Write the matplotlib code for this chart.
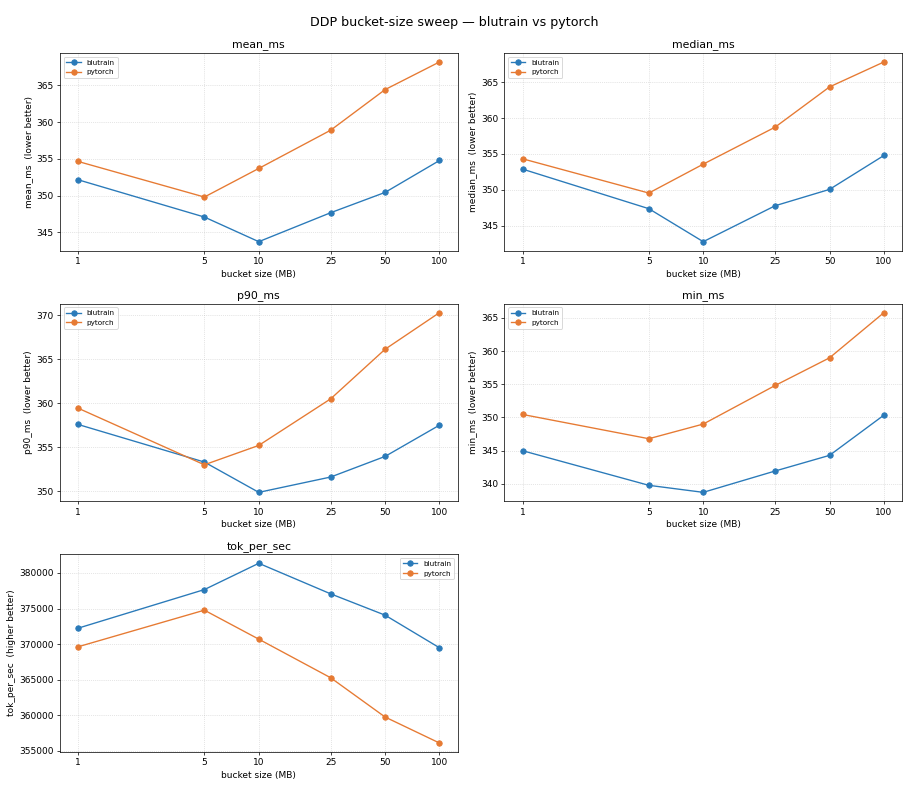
"""DDP bucket-size sweep: blutrain vs pytorch, one panel per metric."""

import matplotlib

matplotlib.use("Agg")
import matplotlib.pyplot as plt
from matplotlib.ticker import MultipleLocator, NullLocator


BUCKET_MB = [1, 5, 10, 25, 50, 100]

MEAN_MS_BLUTRAIN = [352.15, 347.08, 343.73, 347.67, 350.43, 354.77]
MEAN_MS_PYTORCH = [354.64, 349.80, 353.69, 358.89, 364.41, 368.17]

MEDIAN_MS_BLUTRAIN = [352.89, 347.37, 342.77, 347.78, 350.06, 354.79]
MEDIAN_MS_PYTORCH = [354.33, 349.55, 353.58, 358.74, 364.35, 367.83]

P90_MS_BLUTRAIN = [357.60, 353.33, 349.89, 351.63, 353.97, 357.52]
P90_MS_PYTORCH = [359.45, 353.02, 355.22, 360.51, 366.14, 370.30]

MIN_MS_BLUTRAIN = [344.97, 339.75, 338.69, 341.91, 344.27, 350.34]
MIN_MS_PYTORCH = [350.44, 346.78, 348.99, 354.81, 358.98, 365.80]

TOK_PER_SEC_BLUTRAIN = [372240, 377660, 381350, 377060, 374070, 369490]
TOK_PER_SEC_PYTORCH = [369630, 374770, 370700, 365280, 359770, 356120]

METRICS = ["mean_ms", "median_ms", "p90_ms", "min_ms", "tok_per_sec"]
BLUTRAIN = [MEAN_MS_BLUTRAIN, MEDIAN_MS_BLUTRAIN, P90_MS_BLUTRAIN, MIN_MS_BLUTRAIN, TOK_PER_SEC_BLUTRAIN]
PYTORCH = [MEAN_MS_PYTORCH, MEDIAN_MS_PYTORCH, P90_MS_PYTORCH, MIN_MS_PYTORCH, TOK_PER_SEC_PYTORCH]

COLOR = {"blutrain": "#2a7ab9", "pytorch": "#e67a33"}


def main() -> None:
    dpi = 65
    fig, axes = plt.subplots(3, 2, figsize=(909 / dpi, 810 / dpi), dpi=dpi)
    fig.subplots_adjust(left=0.066, right=0.9923, top=0.9346, bottom=0.0716,
                        wspace=0.118, hspace=0.268)
    flat = axes.ravel()
    for ax, metric, blu, pt in zip(flat, METRICS, BLUTRAIN, PYTORCH):
        ax.plot(BUCKET_MB, blu, marker="o", color=COLOR["blutrain"], label="blutrain")
        ax.plot(BUCKET_MB, pt, marker="o", color=COLOR["pytorch"], label="pytorch")
        ax.set_xscale("log")
        ax.set_xticks(BUCKET_MB, [str(b) for b in BUCKET_MB])
        ax.xaxis.set_minor_locator(NullLocator())
        if metric.endswith("_ms"):
            ax.yaxis.set_major_locator(MultipleLocator(5))
        ax.ticklabel_format(axis="y", style="plain", useOffset=False)
        ax.grid(True, linestyle=":", alpha=0.6)
        ax.set_title(metric, fontsize=12)
        ax.set_xlabel("bucket size (MB)")
        better = "higher better" if metric == "tok_per_sec" else "lower better"
        ax.set_ylabel(f"{metric}  ({better})")
        loc = "upper right" if metric == "tok_per_sec" else "upper left"
        ax.legend(loc=loc, fontsize=8)
    fig.delaxes(flat[-1])
    fig.suptitle("DDP bucket-size sweep \u2014 blutrain vs pytorch", fontsize=14)
    fig.savefig("out.png", dpi=dpi)
    plt.close(fig)


if __name__ == "__main__":
    main()
